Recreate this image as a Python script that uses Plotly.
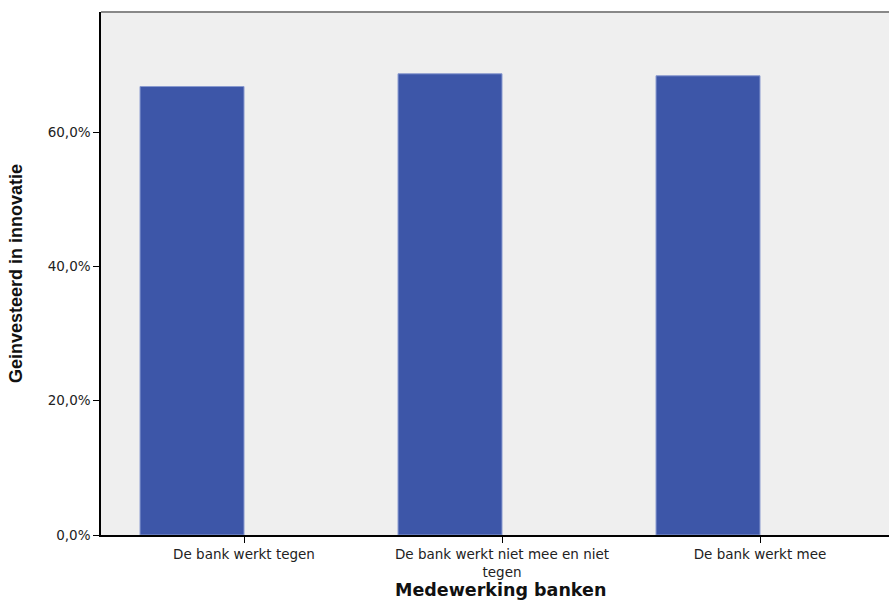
import plotly.graph_objects as go

categories = ["De bank werkt tegen", "De bank werkt niet mee en niet<br>tegen", "De bank werkt mee"]
values = [0.668, 0.687, 0.684]
tick_vals = [0.0, 0.2, 0.4, 0.6]
tick_text = ["0,0%", "20,0%", "40,0%", "60,0%"]

fig = go.Figure()
fig.add_trace(go.Bar(
    x=list(range(len(categories))), y=values,
    width=0.403, offset=-0.403,
    marker=dict(color="#3D56A8", line=dict(color="#8A9AD0", width=1)),
    hoverinfo="y",
))

fig.update_layout(
    width=889, height=602,
    margin=dict(l=101, r=0, t=12, b=67),
    paper_bgcolor="white",
    plot_bgcolor="#EFEFEF",
    showlegend=False,
    font=dict(family="DejaVu Sans", size=13, color="#222"),
    shapes=[dict(type="line", xref="paper", yref="paper", x0=0, x1=1, y0=1, y1=1,
                 line=dict(color="#888", width=2))],
    annotations=[dict(text="<b>Medewerking banken</b>", xref="paper", yref="paper",
                      x=0.5076, y=0, yshift=-55, yanchor="middle", showarrow=False,
                      font=dict(family="DejaVu Sans", size=17.5, color="#111"))],
)
fig.update_xaxes(
    tickvals=list(range(len(categories))), ticktext=categories,
    range=[-0.5543, 2.5], showgrid=False, zeroline=False,
    showline=True, linecolor="black", linewidth=1.5,
    ticks="outside", ticklen=6, tickcolor="black", tickwidth=1,
    tickfont=dict(family="DejaVu Sans", size=13.5, color="#222"),
)
fig.update_yaxes(
    tickvals=tick_vals, ticktext=tick_text,
    range=[0, 0.779], showgrid=False, zeroline=False,
    showline=True, linecolor="black", linewidth=1.5,
    ticks="outside", ticklen=6, tickcolor="black", tickwidth=1,
    tickfont=dict(family="DejaVu Sans", size=13.5, color="#222"),
    title=dict(text="<b>Geinvesteerd in innovatie</b>", standoff=20,
               font=dict(family="Liberation Sans", size=18, color="#111")),
)

fig.write_html("out.html", config={"displayModeBar": False},
               post_script="document.body.style.margin='0';")
